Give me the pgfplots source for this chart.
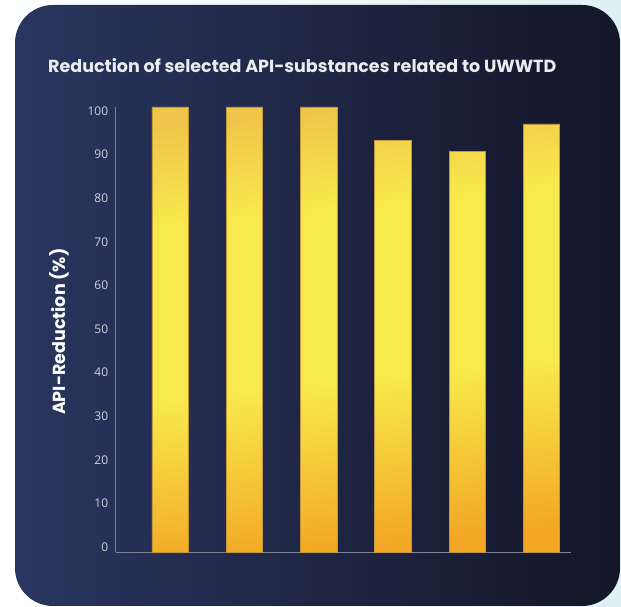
\documentclass[border=0pt]{standalone}
\usepackage{pgfplots}
\pgfplotsset{compat=1.18}
\usepackage{fontspec}
\setmainfont{Poppins}
\newfontfamily\tickfont{Open Sans}
\definecolor{bgL}{RGB}{42,54,96}
\definecolor{bgR}{RGB}{20,22,40}
\definecolor{outL}{RGB}{255,255,255}
\definecolor{outR}{RGB}{222,241,244}
\definecolor{bartop}{RGB}{240,198,74}
\definecolor{baryel}{RGB}{248,233,76}
\definecolor{barbot}{RGB}{242,166,36}
\definecolor{baredge}{RGB}{196,150,60}
\definecolor{axcol}{RGB}{125,130,150}
\definecolor{tickcol}{RGB}{205,209,220}
\definecolor{titlecol}{RGB}{235,236,240}
\pgfdeclareverticalshading{barshade}{100bp}{color(0bp)=(barbot); color(25bp)=(barbot); color(44bp)=(baryel); color(64bp)=(baryel); color(75bp)=(bartop); color(100bp)=(bartop)}
\begin{document}
\begin{tikzpicture}[x=1pt,y=1pt]
\useasboundingbox (0,0) rectangle (621,607);
\shade[left color=outL, right color=outR] (0,0) rectangle (621,607);
\shade[left color=bgL, right color=bgR, rounded corners=38pt] (15,1) rectangle (620,602);
\node[anchor=west, inner sep=0pt, text=titlecol, font=\bfseries\fontsize{17.5}{20}\selectfont] at (48,541) {Reduction of selected API-substances related to UWWTD};
\begin{axis}[
  at={(115.7pt,55pt)}, anchor=south west,
  scale only axis, width=455.3pt, height=445pt,
  xmin=-0.731, xmax=5.397, ymin=0, ymax=100,
  axis x line*=bottom, axis y line*=left,
  axis line style={draw=axcol, line width=0.8pt, -},
  xtick=\empty,
  ytick={0,10,...,100},
  major tick length=0pt,
  /pgf/number format/assume math mode=true,
  yticklabel style={text=tickcol, font=\tickfont\fontsize{12}{14}\selectfont, xshift=-4pt},
  yticklabel={\raisebox{\dimexpr 5pt-0.9pt*\ticknum\relax}[\height][\depth]{\pgfmathprintnumber{\tick}}},
  ylabel={API-Reduction (\%)},
  ylabel style={text=white, font=\bfseries\fontsize{17.5}{20}\selectfont, at={(axis description cs:-0.1245,0.495)}, anchor=center},
  clip=false,
]
\addplot[ybar, bar width=36.4pt, draw=baredge, line width=0.5pt, shading=barshade, shading angle=6] coordinates {
  (0,100) (1,100) (2,100) (3,92.5) (4,90.0) (5,96.2)
};
\end{axis}
\end{tikzpicture}
\end{document}
